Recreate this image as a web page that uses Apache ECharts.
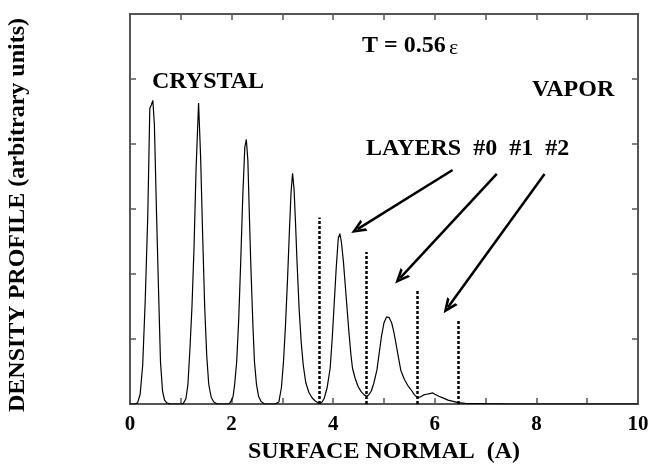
<!DOCTYPE html>
<html>
<head>
<meta charset="utf-8">
<script src="https://cdn.jsdelivr.net/npm/echarts@6/dist/echarts.min.js"></script>
<style>
html,body{margin:0;padding:0;background:#fff;}
#chart{width:652px;height:467px;}
</style>
</head>
<body>
<div id="chart"></div>
<script>
// Density profile along the surface normal
const profileX = [0.00,0.10,0.15,0.20,0.25,0.30,0.35,0.39,0.42,0.45,0.48,0.52,0.56,0.60,0.64,0.68,0.72,0.80,
  1.00,1.05,1.10,1.14,1.18,1.22,1.26,1.30,1.35,1.39,1.43,1.47,1.51,1.55,1.60,1.65,1.72,
  1.90,1.96,2.00,2.03,2.06,2.10,2.14,2.18,2.22,2.26,2.29,2.32,2.35,2.38,2.42,2.45,2.49,2.53,2.58,2.65,
  2.85,2.93,2.98,3.02,3.06,3.10,3.14,3.17,3.20,3.23,3.26,3.29,3.33,3.37,3.41,3.46,3.52,3.58,3.64,3.70,
  3.74,3.78,3.82,3.88,3.94,3.98,4.02,4.06,4.10,4.13,4.16,4.20,4.24,4.27,4.31,4.35,4.38,4.43,4.49,4.55,4.61,4.66,
  4.70,4.75,4.80,4.86,4.90,4.95,5.00,5.05,5.10,5.15,5.19,5.22,5.27,5.33,5.40,5.48,5.55,5.60,5.66,
  5.72,5.78,5.84,5.90,5.96,6.00,6.08,6.17,6.26,6.36,6.46,6.60,7.00,7.50,10.0];
const profileY = [0,0,0.02,0.15,0.6,1.6,2.9,4.55,4.6,4.67,4.3,3.0,1.8,0.65,0.2,0.06,0.02,0,
  0,0.01,0.08,0.3,0.85,1.5,2.4,3.6,4.63,3.8,2.6,1.5,0.75,0.3,0.1,0.03,0,
  0,0.01,0.06,0.12,0.3,0.65,1.3,2.2,3.2,3.95,4.07,3.75,2.9,2.1,1.2,0.65,0.3,0.12,0.04,0,
  0,0.03,0.25,0.63,1.2,1.9,2.7,3.25,3.55,3.3,2.75,2.15,1.45,0.95,0.6,0.33,0.18,0.1,0.05,0.02,
  0.01,0.03,0.08,0.25,0.55,1.0,1.55,2.1,2.55,2.62,2.5,2.2,1.8,1.5,1.1,0.75,0.55,0.4,0.27,0.19,0.14,0.12,
  0.14,0.2,0.32,0.52,0.75,1.04,1.25,1.34,1.33,1.25,1.12,1.0,0.78,0.52,0.38,0.27,0.2,0.14,0.1,
  0.11,0.14,0.15,0.16,0.17,0.15,0.12,0.09,0.06,0.04,0.02,0.01,0.005,0,0];

// Layer boundaries (dotted lines): position and height
const layerBoundX = [3.73, 4.65, 5.66, 6.46];
const layerBoundTop = [2.87, 2.34, 1.75, 1.29];

// Arrows from the "LAYERS" label to the layers (start, arrow-head position)
const arrowStart = [[6.35, 3.60], [7.22, 3.54], [8.16, 3.54]];
const arrowEnd = [[4.48, 2.69], [5.32, 1.94], [6.26, 1.49]];

// Axis tick labels
const xTickLabels = [0, 2, 4, 6, 8, 10];

// Texts
const xTitle = 'SURFACE NORMAL  (A)';
const yTitle = 'DENSITY PROFILE (arbitrary units)';
const labelCrystal = 'CRYSTAL';
const labelVapor = 'VAPOR';
const labelLayers = 'LAYERS  #0  #1  #2';
const labelTemp = 'T = 0.56';
const labelEps = 'ε';

const FONT = '"Liberation Serif", "Times New Roman", serif';
const axisColor = '#555';

const profileData = profileX.map((x, i) => [x, profileY[i]]);
const dottedLines = layerBoundX.map((x, i) => [{coord: [x, 0]}, {coord: [x, layerBoundTop[i]]}]);
const arrowLines = arrowStart.map((s, i) => [{coord: s}, {coord: arrowEnd[i]}]);

const chevron = 'path://M5,0 L10,10 L7.8,10 L5,4.2 L2.2,10 L0,10 Z';

const chart = echarts.init(document.getElementById('chart'), null, {renderer: 'canvas'});

const baseAxis = {
  type: 'value',
  axisLine: {show: true, onZero: false, lineStyle: {color: axisColor, width: 2}},
  axisTick: {show: true, inside: true, length: 6, lineStyle: {color: axisColor, width: 1.5}},
  splitLine: {show: false}
};

chart.setOption({
  animation: false,
  backgroundColor: '#fff',
  grid: {left: 130, right: 14, top: 14, bottom: 63, containLabel: false, outerBoundsMode: 'none'},
  xAxis: [
    Object.assign({}, baseAxis, {
      min: 0, max: 10, interval: 1, position: 'bottom',
      axisLabel: {
        show: true, margin: 10, color: '#000',
        fontFamily: FONT, fontWeight: 'bold', fontSize: 21,
        formatter: v => xTickLabels.indexOf(v) >= 0 ? String(v) : ''
      },
      name: xTitle, nameLocation: 'middle', nameGap: 27,
      nameTextStyle: {color: '#000', fontFamily: FONT, fontWeight: 'bold', fontSize: 24}
    }),
    Object.assign({}, baseAxis, {
      min: 0, max: 10, interval: 1, position: 'top',
      axisLabel: {show: false}
    })
  ],
  yAxis: [
    Object.assign({}, baseAxis, {
      min: 0, max: 6, interval: 1, position: 'left',
      axisLabel: {show: false},
      name: yTitle, nameLocation: 'middle', nameGap: 100, nameRotate: 90,
      nameTextStyle: {color: '#000', fontFamily: FONT, fontWeight: 'bold', fontSize: 24, padding: [0, 12, 0, 0]}
    }),
    Object.assign({}, baseAxis, {
      min: 0, max: 6, interval: 1, position: 'right',
      axisLabel: {show: false}
    })
  ],
  series: [
    {
      type: 'line',
      data: profileData,
      showSymbol: false,
      symbol: 'none',
      lineStyle: {color: '#000', width: 1.2},
      clip: true,
      markLine: {
        silent: true,
        symbol: ['none', 'none'],
        label: {show: false},
        lineStyle: {color: '#000', width: 2.5, type: [3, 2]},
        emphasis: {disabled: true},
        data: dottedLines
      }
    },
    {
      type: 'line',
      data: [],
      markLine: {
        silent: true,
        symbol: ['none', chevron],
        symbolSize: [13, 15],
        label: {show: false},
        lineStyle: {color: '#000', width: 2.5, type: 'solid'},
        itemStyle: {color: '#000'},
        emphasis: {disabled: true},
        data: arrowLines
      }
    }
  ],
  graphic: [
    {type: 'text', x: 152, y: 82, silent: true,
     style: {text: labelCrystal, font: 'bold 24px ' + FONT, fill: '#000', textAlign: 'left', textVerticalAlign: 'middle'}},
    {type: 'text', x: 362, y: 46, silent: true,
     style: {text: labelTemp, font: 'bold 24px ' + FONT, fill: '#000', textAlign: 'left', textVerticalAlign: 'middle'}},
    {type: 'text', x: 449, y: 48, silent: true,
     style: {text: labelEps, font: '22px ' + FONT, fill: '#000', textAlign: 'left', textVerticalAlign: 'middle'}},
    {type: 'text', x: 532, y: 90, silent: true,
     style: {text: labelVapor, font: 'bold 24px ' + FONT, fill: '#000', textAlign: 'left', textVerticalAlign: 'middle'}},
    {type: 'text', x: 366, y: 149, silent: true,
     style: {text: labelLayers, font: 'bold 24px ' + FONT, fill: '#000', textAlign: 'left', textVerticalAlign: 'middle'}}
  ]
});
</script>
</body>
</html>
